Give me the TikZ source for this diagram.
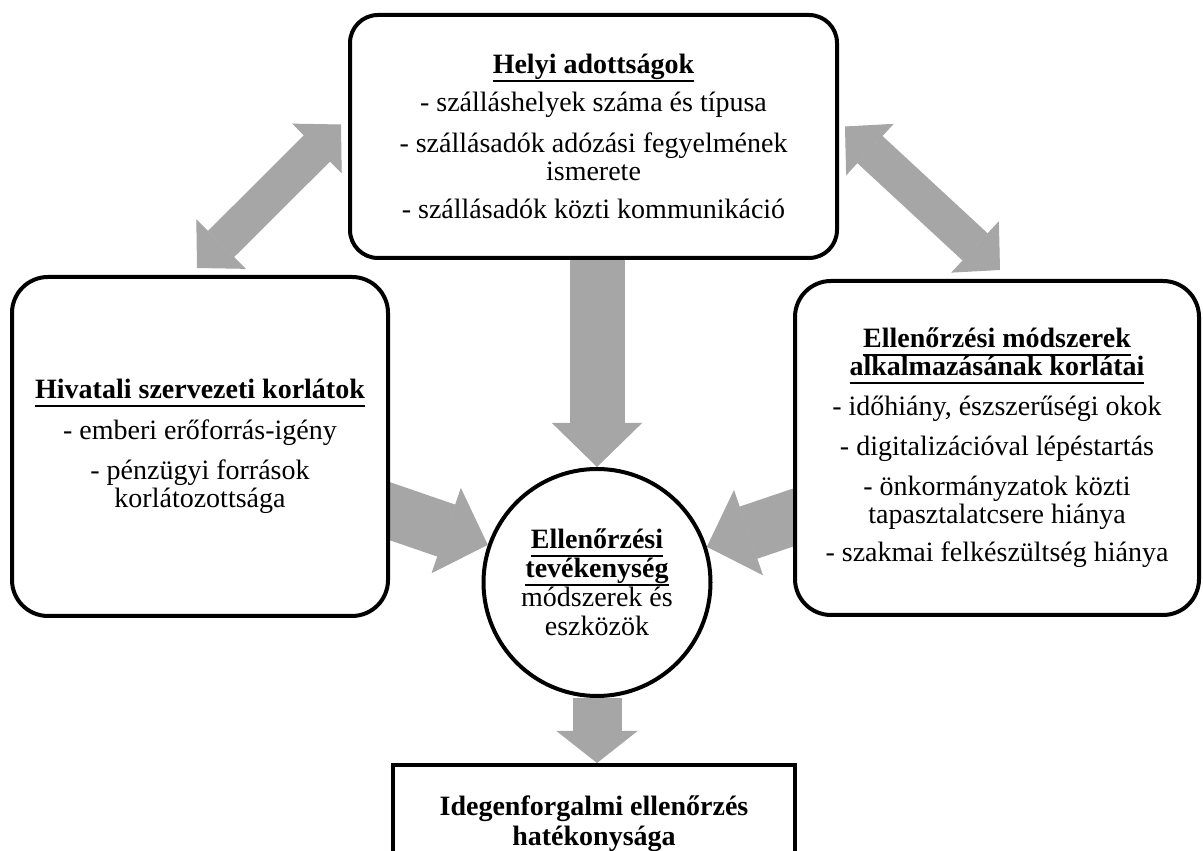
\documentclass[tikz,border=0pt]{standalone}
\usepackage{fontspec}
\setmainfont{Liberation Serif}
\usepackage{tikz}
\usetikzlibrary{arrows.meta, positioning}
\definecolor{arrowgray}{HTML}{A6A6A6}
\pgfdeclarelayer{background}
\pgfsetlayers{background,main}
\newsavebox{\ulnbox}
\newcommand{\uln}[1]{\sbox{\ulnbox}{#1}\rlap{\rule[-8.5pt]{\wd\ulnbox}{2pt}}\usebox{\ulnbox}}

\begin{document}
\begin{tikzpicture}[x=1pt, y=1pt,
    roundbox/.style={draw, line width=4pt, fill=white, rounded corners=36pt, align=center, inner sep=0pt, font={\fontsize{28}{28}\selectfont}},
    hub/.style={circle, draw, line width=4pt, fill=white, minimum size=227pt, inner sep=0pt, align=center, font={\fontsize{28}{29}\selectfont}},
    resultbox/.style={draw, line width=4pt, fill=white, align=center, inner sep=0pt, font={\fontsize{28}{30}\selectfont\bfseries}},
    bigarrow/.style={draw=arrowgray, line width=55pt, -{Triangle[length=44pt, width=90pt, line width=1pt]}},
    smallarrow/.style={draw=arrowgray, line width=49pt, -{Triangle[length=32pt, width=81pt, line width=1pt]}},
    twoway/.style={draw=arrowgray, line width=37pt, {Triangle[length=34pt, width=70pt, line width=1pt]}-{Triangle[length=34pt, width=70pt, line width=1pt]}}]
        \useasboundingbox (0,0) rectangle (1203,851);
        \clip (0,0) rectangle (1203,851);

        % Local conditions (top)
        \node[roundbox, rounded corners=28pt, minimum width=487pt, minimum height=243pt] (local) at (593.5,714.5)
            {\uln{\textbf{Helyi adottságok}}\\[10pt]
             - szálláshelyek száma és típusa\\[13pt]
             - szállásadók adózási fegyelmének\\ismerete\\[10pt]
             - szállásadók közti kommunikáció};

        % Office constraints (left)
        \node[roundbox, minimum width=376pt, minimum height=339pt] (office) at (200,404.5)
            {\uln{\textbf{Hivatali szervezeti korlátok}}\\[12pt]
             - emberi erőforrás-igény\\[12pt]
             - pénzügyi források\\korlátozottsága};

        % Method constraints (right)
        \node[roundbox, minimum width=404pt, minimum height=334pt] (methods) at (997,403)
            {\uln{\textbf{Ellenőrzési módszerek}}\\\uln{\textbf{alkalmazásának korlátai}}\\[12pt]
             - időhiány, észszerűségi okok\\[12pt]
             - digitalizációval lépéstartás\\[12pt]
             - önkormányzatok közti\\tapasztalatcsere hiánya\\[10pt]
             - szakmai felkészültség hiánya};

        % Control activity (centre)
        \node[hub] (control) at (597,268.5)
            {\uln{\textbf{Ellenőrzési}}\\\uln{\textbf{tevékenység}}\\módszerek és\\eszközök};

        % Efficiency (bottom, cut off)
        \node[resultbox, minimum width=402pt, minimum height=118pt] (result) at (594,27)
            {Idegenforgalmi ellenőrzés\\hatékonysága};

        % Arrow ends
        \coordinate (officeout) at ([shift={(-40,-51)}]office.east);
        \coordinate (methodsout) at ([shift={(37,-57)}]methods.west);
        \coordinate (ulend) at ([shift={(-3,7)}]office.north);
        \coordinate (ulstart) at ([shift={(-7,12)}]local.west);
        \coordinate (urstart) at ([shift={(6,10)}]local.east);
        \coordinate (urend) at ([shift={(3,9)}]methods.north);

        % Grey block arrows
        \begin{pgfonlayer}{background}
            \draw[bigarrow] (control.north |- local.south) -- (control.north);
            \draw[bigarrow] (officeout) -- (control.161);
            \draw[bigarrow] (methodsout) -- (control.18);
            \draw[smallarrow] (control.south) -- (control.south |- result.north);
            \draw[twoway] (ulend) -- (ulstart);
            \draw[twoway] (urstart) -- (urend);
        \end{pgfonlayer}
\end{tikzpicture}
\end{document}
